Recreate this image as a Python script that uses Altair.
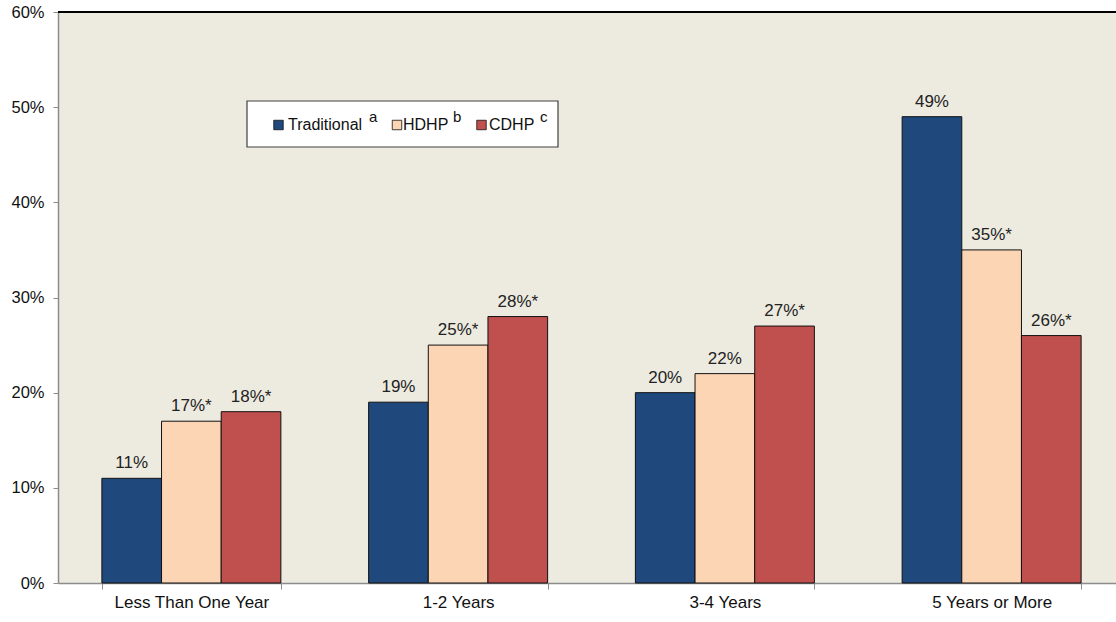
import altair as alt
import pandas as pd

# Share of enrollees by length of time with current health plan
categories = ["Less Than One Year", "1-2 Years", "3-4 Years", "5 Years or More"]
plans = ["Traditional", "HDHP", "CDHP"]
plan_notes = ["a", "b", "c"]
plan_colors = ["#1F497D", "#FCD5B5", "#C0504D"]

traditional = [11, 19, 20, 49]
hdhp = [17, 25, 22, 35]
cdhp = [18, 28, 27, 26]

# significance markers (* = different from traditional)
traditional_sig = [False, False, False, False]
hdhp_sig = [True, True, False, True]
cdhp_sig = [True, True, True, True]

y_ticks = [0, 0.1, 0.2, 0.3, 0.4, 0.5, 0.6]

rows = []
for plan, vals, sigs in [("Traditional", traditional, traditional_sig),
                         ("HDHP", hdhp, hdhp_sig),
                         ("CDHP", cdhp, cdhp_sig)]:
    for cat, v, s in zip(categories, vals, sigs):
        rows.append({"category": cat, "plan": plan, "value": v / 100,
                     "label": f"{v}%" + ("*" if s else "")})
df = pd.DataFrame(rows)

FONT = "Liberation Sans"
W, H = 1058, 571
X_SPAN = 1067  # category axis runs slightly past the right edge of the view

x_enc = alt.X("category:N", sort=categories, title=None,
              scale=alt.Scale(range=[0, X_SPAN], paddingInner=0.329, paddingOuter=0.1645),
              axis=alt.Axis(labelAngle=0, labelFontSize=17, labelColor="#111",
                            labelFont=FONT, labelPadding=5, tickBand="extent",
                            domainColor="#8c8c8c", tickColor="#8c8c8c",
                            tickSize=6, domainWidth=1.5))
xo_enc = alt.XOffset("plan:N", sort=plans, scale=alt.Scale(paddingInner=0, paddingOuter=0))
y_enc = alt.Y("value:Q", title=None,
              scale=alt.Scale(domain=[0, 0.6], nice=False),
              axis=alt.Axis(values=y_ticks, format=".0%", labelFontSize=16.5,
                            labelColor="#111", labelFont=FONT, labelPadding=9,
                            grid=False, domainColor="#8c8c8c", tickColor="#8c8c8c",
                            tickSize=5, domainWidth=1.5))
color_enc = alt.Color("plan:N", sort=plans, legend=None,
                      scale=alt.Scale(domain=plans, range=plan_colors))

base = alt.Chart(df)

bars = base.mark_bar(stroke="#111", strokeWidth=1).encode(
    x=x_enc, xOffset=xo_enc, y=y_enc, color=color_enc)

labels = base.mark_text(baseline="alphabetic", dy=-10, fontSize=17,
                        font=FONT, color="#222").encode(
    x=alt.X("category:N", sort=categories),
    xOffset=xo_enc, y="value:Q", text="label:N")

top_line = alt.Chart(pd.DataFrame({"v": [0.6]})).mark_rule(
    color="#000", strokeWidth=2).encode(y="v:Q")

# Legend box drawn inside the plot area
legend_box = alt.Chart(pd.DataFrame({"k": [0]})).mark_rect(
    fill="white", stroke="#404040", strokeWidth=1.2).encode(
    x=alt.value(189), x2=alt.value(500), y=alt.value(89), y2=alt.value(135))

legend_layers = [legend_box]
swatch_x = [220.5, 339, 423.5]
text_x = [230, 345, 431]
note_x = [311, 395, 482]
for plan, note, col, sx, tx, nx in zip(plans, plan_notes, plan_colors,
                                        swatch_x, text_x, note_x):
    one = alt.Chart(pd.DataFrame({"plan": [plan], "note": [note]}))
    legend_layers.append(one.mark_square(size=90, fill=col, stroke="#111",
                                         strokeWidth=0.8, opacity=1).encode(
        x=alt.value(sx), y=alt.value(113)))
    legend_layers.append(one.mark_text(align="left", baseline="alphabetic",
                                       fontSize=16, font=FONT, color="#111").encode(
        x=alt.value(tx), y=alt.value(118), text="plan:N"))
    legend_layers.append(one.mark_text(align="left", baseline="alphabetic",
                                       fontSize=15, font=FONT, color="#111").encode(
        x=alt.value(nx), y=alt.value(110), text="note:N"))

chart = alt.layer(bars, labels, top_line, *legend_layers).properties(
    width=W, height=H,
    autosize=alt.AutoSizeParams(type="none"),
    padding={"left": 58, "top": 12, "right": 0, "bottom": 39},
    background="white",
).configure_view(fill="#EDEBE0", stroke=None)

chart.save("out.html", embed_options={"renderer": "svg", "actions": False})
